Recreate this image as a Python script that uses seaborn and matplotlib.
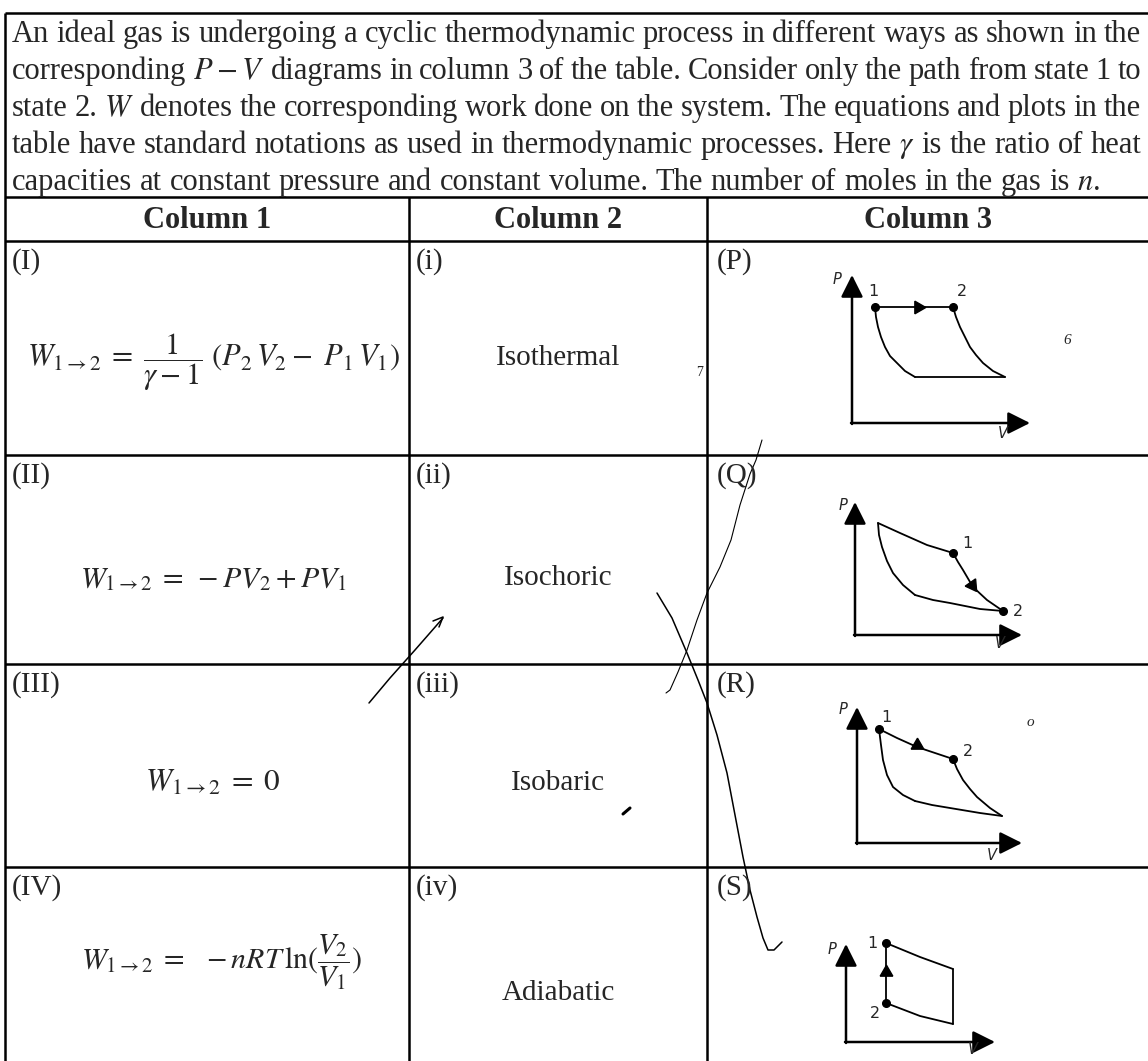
import matplotlib
matplotlib.use("Agg")
import matplotlib.pyplot as plt
import seaborn as sns
import numpy as np

sns.set_theme(style="white")
plt.rcParams["font.family"] = ["Liberation Serif", "DejaVu Serif"]
plt.rcParams["mathtext.fontset"] = "stix"

W, H = 1148, 1061

# ---------------- text content ----------------
intro_lines = [
    "An ideal gas is undergoing a cyclic thermodynamic process in different ways as shown in the",
    r"corresponding $P-V$ diagrams in column 3 of the table. Consider only the path from state 1 to",
    r"state 2. $W$ denotes the corresponding work done on the system. The equations and plots in the",
    r"table have standard notations as used in thermodynamic processes. Here $\gamma$ is the ratio of heat",
    r"capacities at constant pressure and constant volume. The number of moles in the gas is $n$.",
]
headers = ["Column 1", "Column 2", "Column 3"]
col1_labels = ["(I)", "(II)", "(III)", "(IV)"]
col2_labels = ["(i)", "(ii)", "(iii)", "(iv)"]
col3_labels = ["(P)", "(Q)", "(R)", "(S)"]
col2_words = ["Isothermal", "Isochoric", "Isobaric", "Adiabatic"]
formulas = [
    r"$W_{1\rightarrow 2}\; =\; \dfrac{1}{\gamma - 1}\ (P_2\,V_2 -\ P_1\,V_1)$",
    r"$W_{1\rightarrow 2}\; =\; -PV_2 + PV_1$",
    r"$W_{1\rightarrow 2}\; =\; 0$",
    r"$W_{1\rightarrow 2}\; =\;\ -nRT\,\ln(\dfrac{V_2}{V_1})$",
]

# ---------------- P-V diagram data (local units) ----------------
# diagram P
P_top_v, P_top_p = [23, 101], [116, 116]
P_left_v = [23, 24, 26, 29, 33, 38, 45, 53, 63]
P_left_p = [116, 106, 96, 86, 76, 67, 60, 52, 46]
P_bot_v, P_bot_p = [63, 153], [46, 46]
P_right_v = [101, 104, 108, 113, 118, 124, 131, 141, 153]
P_right_p = [116, 106, 96, 86, 76, 68, 60, 52, 46]
# diagram Q
Q_up_v, Q_up_p = [23, 45, 72, 98], [112, 102, 90, 82]
Q_12_v, Q_12_p = [98, 103, 108, 118, 132, 148], [82, 73, 65, 48, 35, 24]
Q_left_v = [23, 24, 27, 32, 38, 48, 60]
Q_left_p = [112, 100, 88, 74, 62, 50, 40]
Q_low_v, Q_low_p = [60, 78, 95, 125, 148], [40, 35, 32, 26, 24]
# diagram R
R_12_v, R_12_p = [22, 40, 60, 78, 96], [114, 105, 96, 90, 84]
R_left_v = [22, 24, 26, 30, 36, 46, 58]
R_left_p = [114, 98, 83, 68, 56, 48, 42]
R_bot_v, R_bot_p = [58, 75, 93, 123, 145], [42, 38, 35, 30, 27]
R_right_v = [96, 100, 106, 113, 120, 133, 145]
R_right_p = [84, 74, 63, 54, 46, 35, 27]
# diagram S
S_up_v, S_up_p = [40, 74, 107], [99, 85, 73]
S_right_v, S_right_p = [107, 107], [73, 18]
S_low_v, S_low_p = [40, 74, 107], [39, 26, 18]
S_21_v, S_21_p = [40, 40], [39, 99]

# ---------------- figure ----------------
fig = plt.figure(figsize=(W / 100, H / 100), dpi=100)
ax = fig.add_axes([0, 0, 1, 1])
ax.set_xlim(0, W)
ax.set_ylim(H, 0)
ax.axis("off")

# table geometry (pixels)
x_left, x_c1, x_c2, x_right = 5, 409, 707, W
y_top, y_head, y_head_b = 13, 197, 241
row_tops = [241, 455, 664, 867]

lk = dict(color="black", lw=1.8, solid_capstyle="butt")
ax.plot([x_left, x_right], [y_top, y_top], **lk)
ax.plot([x_left, x_left], [y_top, H], **lk)
ax.plot([x_left, x_right], [y_head, y_head], **lk)
for yy in row_tops:
    ax.plot([x_left, x_right], [yy, yy], **lk)
for xx in (x_c1, x_c2):
    ax.plot([xx, xx], [y_head, H], **lk)

# justified intro text
renderer = fig.canvas.get_renderer()
baselines = [42, 79, 116, 153, 190]
X0, X1 = 12, 1141
for i, line in enumerate(intro_lines):
    toks = line.split(" ")
    fs = 22.0
    while True:
        ts = [ax.text(0, baselines[i], t, fontsize=fs, va="baseline", ha="left")
              for t in toks]
        widths = [t.get_window_extent(renderer).width for t in ts]
        natural_gap = fs * 100 / 72 * 0.25
        if i == len(intro_lines) - 1:
            gap = natural_gap
            break
        gap = (X1 - X0 - sum(widths)) / (len(toks) - 1)
        if gap >= 0.7 * natural_gap or fs < 16:
            break
        for t in ts:
            t.remove()
        fs -= 0.25
    x = X0
    for t, w in zip(ts, widths):
        t.set_x(x)
        x += w + gap

# headers
for hx, htxt in zip([207, 558, 928], headers):
    ax.text(hx, 220, htxt, fontsize=22, fontweight="bold", ha="center", va="center")

# cells
form_y = [362, 580, 783, 962]
form_x = [213, 213, 213, 221]
word_y = [358, 578, 783, 993]
form_fs = [22, 21.5, 22.5, 21.5]
for i in range(4):
    top = row_tops[i]
    ax.text(12, top + 7, col1_labels[i], fontsize=21, va="top", ha="left")
    ax.text(416, top + 7, col2_labels[i], fontsize=21, va="top", ha="left")
    ax.text(717, top + 7, col3_labels[i], fontsize=21, va="top", ha="left")
    ax.text(form_x[i], form_y[i], formulas[i], fontsize=form_fs[i], ha="center", va="center")
    ax.text(558, word_y[i], col2_words[i], fontsize=21, ha="center", va="center")

# ---------------- handwritten pen strokes ----------------
penA_x = [657, 672, 687, 698, 707, 717, 727, 735, 743, 750, 757, 763, 768, 774, 782]
penA_y = [593, 618, 653, 680, 703, 735, 773, 815, 857, 890, 917, 938, 950, 950, 942]
penB_x = [762, 756, 750, 740, 731, 720, 707, 697, 687, 678, 670, 666]
penB_y = [440, 460, 474, 505, 540, 567, 593, 620, 650, 672, 690, 693]
penC_x = [369, 390, 415, 443]
penC_y = [703, 678, 650, 618]
pk = dict(color="black", lw=1.1)
ax.plot(penA_x, penA_y, **pk)
ax.plot(penB_x, penB_y, color="black", lw=0.8)
ax.plot(penC_x, penC_y, **pk)
ax.plot([433, 443, 439], [621, 617, 627], **pk)
ax.plot([623, 630], [814, 808], color="black", lw=2.2)
ax.text(1067, 340, "6", fontsize=11, style="italic", ha="center", va="center")
ax.text(1030, 722, "o", fontsize=11, style="italic", ha="center", va="center")
ax.text(700, 372, "7", fontsize=10, ha="center", va="center")


# ---------------- P-V inset diagrams ----------------
def make_inset(ox, oy):
    xl, xr, yb, yt = -30, 190, -22, 160
    a = fig.add_axes([(ox + xl) / W, (H - (oy - yb)) / H, (xr - xl) / W, (yt - yb) / H])
    a.set_xlim(xl, xr)
    a.set_ylim(yb, yt)
    a.axis("off")
    return a


def draw_axes(a, ptip, vtip, plab, vlab):
    ap = dict(arrowstyle="-|>,head_length=0.9,head_width=0.45", color="black", lw=1.8,
              shrinkA=0, shrinkB=0, mutation_scale=15)
    a.annotate("", xy=(0, ptip), xytext=(0, -1), arrowprops=ap)
    a.annotate("", xy=(vtip, 0), xytext=(-1, 0), arrowprops=ap)
    a.text(plab[0], plab[1], "P", fontsize=10.5, style="italic", family="DejaVu Sans",
           ha="center", va="center")
    a.text(vlab[0], vlab[1], "V", fontsize=10.5, style="italic", family="DejaVu Sans",
           ha="center", va="center")


def seg(a, v, p, lw=1.3):
    sns.lineplot(x=v, y=p, sort=False, estimator=None, color="black", lw=lw, ax=a,
                 legend=False)


def label(a, x, y, s):
    a.text(x, y, s, fontsize=11.5, family="DejaVu Sans", ha="center", va="center")


def arrowhead(a, x, y, angle):
    a.plot([x], [y], marker=(3, 0, angle - 90), ms=10.5, color="black")


# P
a = make_inset(852, 423)
draw_axes(a, 148, 178, (-15, 143), (151, -10))
for v, p in [(P_top_v, P_top_p), (P_left_v, P_left_p), (P_bot_v, P_bot_p), (P_right_v, P_right_p)]:
    seg(a, v, p)
a.plot([P_top_v[0], P_top_v[-1]], [P_top_p[0], P_top_p[-1]], "o", ms=5.5, color="black")
arrowhead(a, 66, 116, 0)
label(a, 21, 131, "1")
label(a, 110, 131, "2")

# Q
a = make_inset(855, 635)
draw_axes(a, 133, 167, (-12, 130), (145, -8))
for v, p in [(Q_up_v, Q_up_p), (Q_12_v, Q_12_p), (Q_left_v, Q_left_p), (Q_low_v, Q_low_p)]:
    seg(a, v, p)
a.plot([Q_12_v[0], Q_12_v[-1]], [Q_12_p[0], Q_12_p[-1]], "o", ms=5.5, color="black")
arrowhead(a, 117, 50, -55)
label(a, 112, 92, "1")
label(a, 163, 23, "2")

# R
a = make_inset(857, 843)
draw_axes(a, 136, 165, (-14, 133), (135, -12))
for v, p in [(R_12_v, R_12_p), (R_left_v, R_left_p), (R_bot_v, R_bot_p), (R_right_v, R_right_p)]:
    seg(a, v, p)
a.plot([R_12_v[0], R_12_v[-1]], [R_12_p[0], R_12_p[-1]], "o", ms=5.5, color="black")
arrowhead(a, 60, 98, 90)
label(a, 29, 126, "1")
label(a, 111, 91, "2")

# S
a = make_inset(846, 1042)
draw_axes(a, 98, 149, (-14, 93), (127, -8))
for v, p in [(S_up_v, S_up_p), (S_right_v, S_right_p), (S_low_v, S_low_p), (S_21_v, S_21_p)]:
    seg(a, v, p)
a.plot([S_21_v[0], S_21_v[-1]], [S_21_p[0], S_21_p[-1]], "o", ms=5.5, color="black")
arrowhead(a, 40, 70, 90)
label(a, 26, 99, "1")
label(a, 29, 29, "2")

fig.savefig("out.png", dpi=100, facecolor="white")
